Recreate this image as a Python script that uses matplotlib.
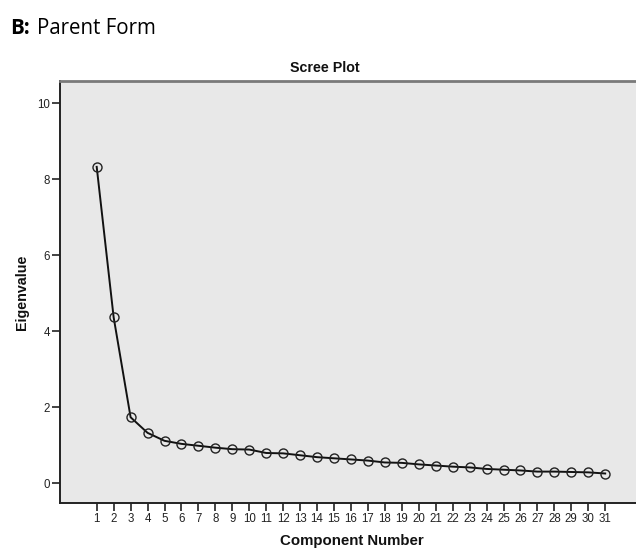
import matplotlib
matplotlib.use("Agg")
import matplotlib.pyplot as plt

components = list(range(1, 32))
eigenvalues = [8.32, 4.36, 1.73, 1.32, 1.11, 1.03, 0.98, 0.93, 0.89, 0.88,
               0.79, 0.78, 0.73, 0.68, 0.65, 0.62, 0.59, 0.54, 0.53, 0.49,
               0.46, 0.43, 0.41, 0.37, 0.35, 0.33, 0.30, 0.30, 0.29, 0.28, 0.25]
y_ticks = [0, 2, 4, 6, 8, 10]

W, H = 636, 548
fig = plt.figure(figsize=(W / 100, H / 100), dpi=100)
fig.patch.set_facecolor("white")

def fx(px):
    return px / W

def fy(py):
    return 1 - py / H

ax = fig.add_axes([fx(60), fy(503), fx(640) - fx(60), fy(81) - fy(503)])
ax.set_facecolor("#e8e8e8")
ax.plot(components, eigenvalues, color="#111111", lw=1.4,
        marker="o", markersize=6.5, markerfacecolor="none",
        markeredgecolor="#222222", markeredgewidth=1.0)

ax.set_xlim(1 - (96.7 - 60) / 16.95, 1 + (640 - 96.7) / 16.95)
ax.set_ylim(-20 / 38, (483 - 81) / 38)
ax.set_xticks(components)
ax.set_xticklabels([str(c) for c in components])
ax.set_yticks(y_ticks)
ax.set_yticklabels([str(v) for v in y_ticks])

for lab in ax.get_xticklabels() + ax.get_yticklabels():
    lab.set_fontfamily(["Liberation Sans", "DejaVu Sans"])
    lab.set_fontsize(8.3)
    lab.set_color("#222222")
ax.tick_params(axis="both", direction="out", length=5.5, width=1.2, color="#222222", pad=1.5)

for side in ["left", "bottom"]:
    ax.spines[side].set_color("#222222")
    ax.spines[side].set_linewidth(1.4)
ax.spines["top"].set_color("#7a7a7a")
ax.spines["top"].set_linewidth(2.0)
ax.spines["right"].set_visible(False)

bold = dict(family=["Liberation Sans", "DejaVu Sans"], weight="bold", color="#111111")
fig.text(fx(325), fy(68), "Scree Plot", ha="center", va="center", fontsize=10.3, **bold)
fig.text(fx(352), fy(541), "Component Number", ha="center", va="center", fontsize=10.8, **bold)
fig.text(fx(22), fy(292), "Eigenvalue", ha="center", va="center", rotation=90, fontsize=10.3, **bold)

fig.text(fx(10), fy(28), "B:", ha="left", va="center", fontsize=14.8,
         family=["Open Sans", "DejaVu Sans"], weight="bold", color="black")
fig.text(fx(37), fy(28), "Parent Form", ha="left", va="center", fontsize=14.8,
         family=["Open Sans", "DejaVu Sans"], color="black")

fig.savefig("out.png", dpi=100)
